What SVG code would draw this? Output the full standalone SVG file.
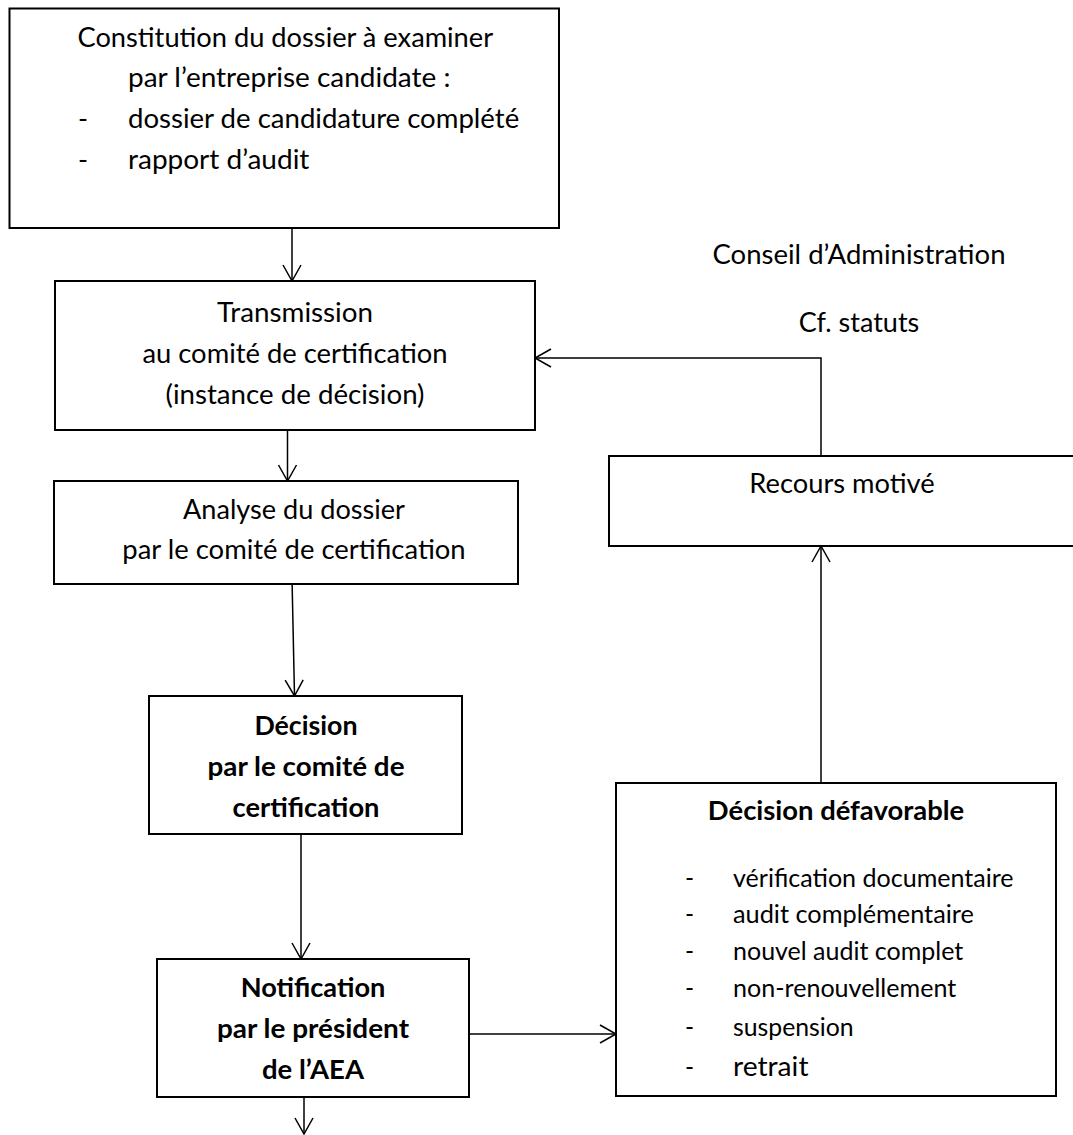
<svg xmlns="http://www.w3.org/2000/svg" width="1073" height="1135" viewBox="0 0 1073 1135">
<style>
  .box { fill: #ffffff; stroke: #000000; stroke-width: 2; }
  .t { font-family: Lato, "Open Sans", sans-serif; font-size: 27px; fill: #000000; }
  .c { text-anchor: middle; }
  .b { font-weight: bold; }
  .s { font-size: 24.5px; }
  .conn { fill: none; stroke: #000000; stroke-width: 1.5; }
</style>
<defs>
  <marker id="arr" markerUnits="userSpaceOnUse" markerWidth="24" markerHeight="24" viewBox="-20 -12 24 24" refX="0" refY="0" orient="auto">
    <path d="M-16,-9 L0,0 L-16,9" fill="none" stroke="#000000" stroke-width="1.5"/>
  </marker>
</defs>
<rect width="1073" height="1135" fill="#ffffff"/>

<g id="connectors">
  <line class="conn" x1="292" y1="228" x2="292" y2="281" marker-end="url(#arr)"/>
  <line class="conn" x1="287.5" y1="425" x2="287.5" y2="481" marker-end="url(#arr)"/>
  <line class="conn" x1="292" y1="578" x2="294.5" y2="696" marker-end="url(#arr)"/>
  <line class="conn" x1="301" y1="834" x2="301" y2="959" marker-end="url(#arr)"/>
  <line class="conn" x1="304" y1="1088" x2="304" y2="1134" marker-end="url(#arr)"/>
  <line class="conn" x1="469" y1="1034" x2="616" y2="1034" marker-end="url(#arr)"/>
  <line class="conn" x1="821" y1="783" x2="821" y2="546" marker-end="url(#arr)"/>
  <polyline class="conn" points="821,456 821,358 535,358" marker-end="url(#arr)"/>
</g>

<g id="n-constitution">
  <rect class="box" x="9.5" y="8.5" width="549.5" height="219.5"/>
  <text class="t" x="77.5" y="47" textLength="415.6" lengthAdjust="spacingAndGlyphs">Constitution du dossier à examiner</text>
  <text class="t" x="128" y="87" textLength="322.4" lengthAdjust="spacingAndGlyphs">par l’entreprise candidate :</text>
  <text class="t" x="78" y="128">-</text>
  <text class="t" x="128" y="128" textLength="391.2" lengthAdjust="spacingAndGlyphs">dossier de candidature complété</text>
  <text class="t" x="78" y="169">-</text>
  <text class="t" x="128" y="169" textLength="181.4" lengthAdjust="spacingAndGlyphs">rapport d’audit</text>
</g>

<g id="n-transmission">
  <rect class="box" x="55" y="281" width="480" height="149"/>
  <text class="t c" x="295" y="322" textLength="156.1" lengthAdjust="spacingAndGlyphs">Transmission</text>
  <text class="t c" x="295" y="363" textLength="305.1" lengthAdjust="spacingAndGlyphs">au comité de certification</text>
  <text class="t c" x="295" y="404" textLength="259" lengthAdjust="spacingAndGlyphs">(instance de décision)</text>
</g>

<g id="n-conseil">
  <text class="t c" x="859" y="264" textLength="293" lengthAdjust="spacingAndGlyphs">Conseil d’Administration</text>
  <text class="t c" x="859" y="332" textLength="120.5" lengthAdjust="spacingAndGlyphs">Cf. statuts</text>
</g>

<g id="n-recours">
  <rect class="box" x="609" y="456" width="480" height="90"/>
  <text class="t c" x="842" y="493" textLength="185.4" lengthAdjust="spacingAndGlyphs">Recours motivé</text>
</g>

<g id="n-analyse">
  <rect class="box" x="54" y="481" width="464" height="103"/>
  <text class="t c" x="294" y="519" textLength="221.9" lengthAdjust="spacingAndGlyphs">Analyse du dossier</text>
  <text class="t c" x="294" y="559" textLength="343.3" lengthAdjust="spacingAndGlyphs">par le comité de certification</text>
</g>

<g id="n-decision">
  <rect class="box" x="149" y="696" width="313" height="138"/>
  <text class="t c b" x="306" y="735" textLength="103.2" lengthAdjust="spacingAndGlyphs">Décision</text>
  <text class="t c b" x="306" y="776" textLength="197" lengthAdjust="spacingAndGlyphs">par le comité de</text>
  <text class="t c b" x="306" y="817" textLength="146.9" lengthAdjust="spacingAndGlyphs">certification</text>
</g>

<g id="n-notification">
  <rect class="box" x="157" y="959" width="312" height="138"/>
  <text class="t c b" x="313" y="997" textLength="144.7" lengthAdjust="spacingAndGlyphs">Notification</text>
  <text class="t c b" x="313" y="1038" textLength="192.1" lengthAdjust="spacingAndGlyphs">par le président</text>
  <text class="t c b" x="313" y="1079" textLength="102" lengthAdjust="spacingAndGlyphs">de l’AEA</text>
</g>

<g id="n-defavorable">
  <rect class="box" x="616" y="783" width="440" height="313"/>
  <text class="t c b" x="836" y="820" textLength="256.3" lengthAdjust="spacingAndGlyphs">Décision défavorable</text>
  <text class="t s" x="685" y="887">-</text>
  <text class="t s" x="733" y="887" textLength="280.5" lengthAdjust="spacingAndGlyphs">vérification documentaire</text>
  <text class="t s" x="685" y="923">-</text>
  <text class="t s" x="733" y="923" textLength="240.9" lengthAdjust="spacingAndGlyphs">audit complémentaire</text>
  <text class="t s" x="685" y="960">-</text>
  <text class="t s" x="733" y="960" textLength="230.3" lengthAdjust="spacingAndGlyphs">nouvel audit complet</text>
  <text class="t s" x="685" y="997">-</text>
  <text class="t s" x="733" y="997" textLength="223.2" lengthAdjust="spacingAndGlyphs">non-renouvellement</text>
  <text class="t s" x="685" y="1036">-</text>
  <text class="t s" x="733" y="1036" textLength="120.7" lengthAdjust="spacingAndGlyphs">suspension</text>
  <text class="t s" x="685" y="1076">-</text>
  <text class="t" x="733" y="1076" textLength="75.5" lengthAdjust="spacingAndGlyphs">retrait</text>
</g>
</svg>
